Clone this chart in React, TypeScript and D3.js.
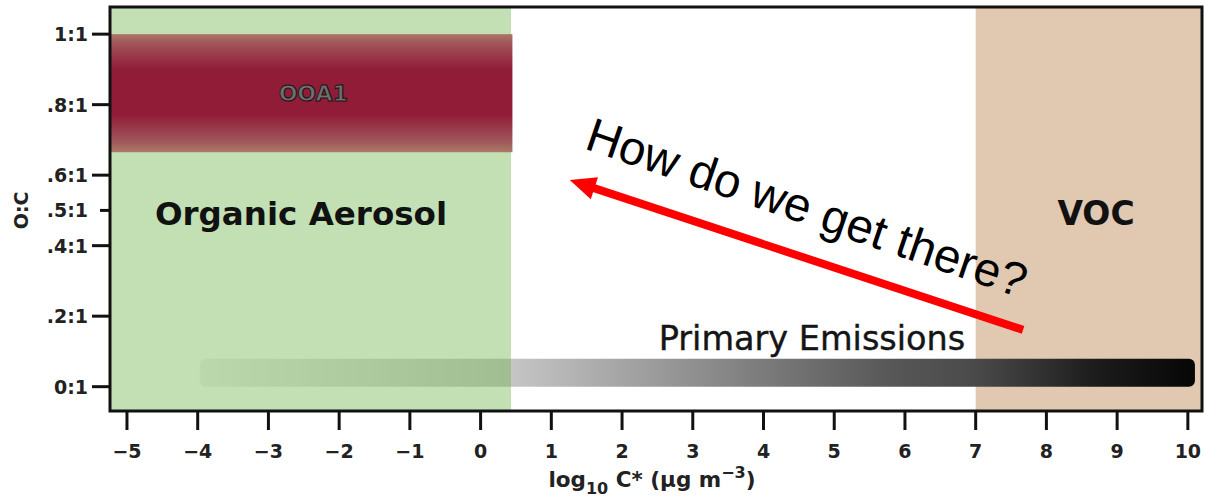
import React from 'react';
import * as d3 from 'd3';

// Axis extents (log10 C* and O:C)
const xDomain: [number, number] = [-5.24, 10.2];
const yDomain: [number, number] = [-0.069, 1.077];

// Tick values and labels
const xTickValues = [-5, -4, -3, -2, -1, 0, 1, 2, 3, 4, 5, 6, 7, 8, 9, 10];
const yTickValues = [0, 0.2, 0.4, 0.5, 0.6, 0.8, 1.0];
const yTickLabels = ['0:1', '.2:1', '.4:1', '.5:1', '.6:1', '.8:1', '1:1'];

// Volatility regimes (log10 C* ranges)
const organicAerosolRange = [-5.24, 0.43];
const vocRange = [7, 10.2];

// OOA1 factor: volatility range and O:C range
const ooa1LogC = [-5.24, 0.45];
const ooa1OC = [0.665, 1.0];

// Primary emissions bar: volatility range and O:C extent
const primaryLogC = [-3.97, 10.1];
const primaryOC = [0.0, 0.079];

// Aging arrow: from (log C*, O:C) to (log C*, O:C)
const arrowFrom = [7.67, 0.161];
const arrowTo = [1.26, 0.586];

const W = 1206;
const H = 497;
const margin = { left: 110, right: 4, top: 7, bottom: 86 };

const boldFont = '"DejaVu Sans", Verdana, sans-serif';

export default function App() {
  const x = d3.scaleLinear().domain(xDomain).range([margin.left, W - margin.right]);
  const y = d3.scaleLinear().domain(yDomain).range([H - margin.bottom, margin.top]);

  const [x0, x1] = x.range();
  const [yb, yt] = y.range();

  // Arrow geometry in screen space
  const ax0 = x(arrowFrom[0]);
  const ay0 = y(arrowFrom[1]);
  const ax1 = x(arrowTo[0]);
  const ay1 = y(arrowTo[1]);
  const len = Math.hypot(ax1 - ax0, ay1 - ay0);
  const ux = (ax1 - ax0) / len;
  const uy = (ay1 - ay0) / len;
  const headLen = 26;
  const headHalf = 11.5;
  const bx = ax1 - ux * headLen;
  const by = ay1 - uy * headLen;
  const head = [
    [ax1, ay1],
    [bx - uy * headHalf, by + ux * headHalf],
    [bx + uy * headHalf, by - ux * headHalf],
  ];
  const angle = (Math.atan2(ay0 - ay1, ax0 - ax1) * 180) / Math.PI + 0.6;

  // Question text anchored a little above the arrow, parallel to it
  const qx = x(1.45);
  const qy = y(0.676);

  return (
    <svg
      width={W}
      height={H}
      style={{ position: 'absolute', left: 0, top: 0, background: '#fff' }}
    >
      <defs>
        <linearGradient id="ooaGrad" x1="0" y1="0" x2="0" y2="1">
          <stop offset="0" stopColor="#aa7866" />
          <stop offset="0.08" stopColor="#a2555a" />
          <stop offset="0.3" stopColor="#901c38" />
          <stop offset="0.68" stopColor="#901c38" />
          <stop offset="0.9" stopColor="#a0545a" />
          <stop offset="1" stopColor="#aa7a66" />
        </linearGradient>
        <linearGradient id="primGrad" x1="0" y1="0" x2="1" y2="0">
          <stop offset="0" stopColor="#f2f2f2" />
          <stop offset="0.31" stopColor="#c6c6c6" />
          <stop offset="0.55" stopColor="#808080" />
          <stop offset="0.7" stopColor="#565656" />
          <stop offset="0.78" stopColor="#4a4a4a" />
          <stop offset="0.9" stopColor="#1c1c1c" />
          <stop offset="1" stopColor="#060606" />
        </linearGradient>
      </defs>

      {/* VOC regime */}
      <rect
        x={x(vocRange[0])}
        y={yt}
        width={x(vocRange[1]) - x(vocRange[0])}
        height={yb - yt}
        fill="#e0c8b1"
      />

      {/* Primary emissions volatility bar */}
      <rect
        x={x(primaryLogC[0])}
        y={y(primaryOC[1])}
        width={x(primaryLogC[1]) - x(primaryLogC[0])}
        height={y(primaryOC[0]) - y(primaryOC[1])}
        rx={6}
        fill="url(#primGrad)"
      />

      {/* Organic aerosol regime, translucent over the bar */}
      <rect
        x={x(organicAerosolRange[0])}
        y={yt}
        width={x(organicAerosolRange[1]) - x(organicAerosolRange[0])}
        height={yb - yt}
        fill="#66b143"
        fillOpacity={0.4}
      />

      {/* OOA1 band */}
      <rect
        x={x(ooa1LogC[0])}
        y={y(ooa1OC[1])}
        width={x(ooa1LogC[1]) - x(ooa1LogC[0])}
        height={y(ooa1OC[0]) - y(ooa1OC[1])}
        fill="url(#ooaGrad)"
      />
      <text
        x={(x(ooa1LogC[0]) + x(ooa1LogC[1])) / 2 + 2}
        y={y((ooa1OC[0] + ooa1OC[1]) / 2) + 8}
        textAnchor="middle"
        fontFamily={boldFont}
        fontWeight="bold"
        fontSize={22}
        fill="#6e6e6e"
        stroke="#151515"
        strokeWidth={1}
      >
        OOA1
      </text>

      <text
        x={812}
        y={350}
        textAnchor="middle"
        fontFamily='"DejaVu Sans", sans-serif'
        fontSize={33.5}
        fill="#151515"
        stroke="#151515"
        strokeWidth={0.4}
      >
        Primary Emissions
      </text>

      {/* Regime labels */}
      <text x={301} y={225} textAnchor="middle" fontFamily={boldFont} fontWeight="bold" fontSize={32.5} fill="#111">
        Organic Aerosol
      </text>
      <text x={1096} y={225} textAnchor="middle" fontFamily={boldFont} fontWeight="bold" fontSize={33} fill="#111">
        VOC
      </text>

      {/* Aging arrow */}
      <line
        x1={ax0}
        y1={ay0}
        x2={bx + ux * 2}
        y2={by + uy * 2}
        stroke="#ff0000"
        strokeWidth={8}
      />
      <polygon points={head.map((p) => p.join(',')).join(' ')} fill="#ff0000" />
      <text
        x={qx}
        y={qy}
        transform={`rotate(${angle}, ${qx}, ${qy})`}
        fontFamily='"Liberation Sans", Arial, sans-serif'
        fontSize={47.5}
        fill="#000"
      >
        How do we get there?
      </text>

      {/* Frame */}
      <rect x={x0} y={yt} width={x1 - x0} height={yb - yt} fill="none" stroke="#111" strokeWidth={3} />

      {/* Y axis */}
      {yTickValues.map((v, i) => (
        <g key={`y${i}`}>
          <line
            x1={x0 - (yTickLabels[i] === '.5:1' ? 10 : 18)}
            x2={x0}
            y1={y(v)}
            y2={y(v)}
            stroke="#111"
            strokeWidth={3}
          />
          <text
            x={x0 - 22}
            y={y(v) + 7}
            textAnchor="end"
            fontFamily={boldFont}
            fontWeight="bold"
            fontSize={19}
            fill="#222"
          >
            {yTickLabels[i]}
          </text>
        </g>
      ))}
      <text
        transform={`translate(28, ${y(0.5)}) rotate(-90)`}
        textAnchor="middle"
        fontFamily={boldFont}
        fontWeight="bold"
        fontSize={19}
        fill="#222"
      >
        O:C
      </text>

      {/* X axis */}
      {xTickValues.map((v) => (
        <g key={`x${v}`}>
          <line x1={x(v)} x2={x(v)} y1={yb} y2={yb + 19} stroke="#111" strokeWidth={3} />
          <text
            x={x(v)}
            y={yb + 47}
            textAnchor="middle"
            fontFamily={boldFont}
            fontWeight="bold"
            fontSize={19}
            fill="#222"
          >
            {d3.format('')(v)}
          </text>
        </g>
      ))}
      <text
        x={652}
        y={487}
        textAnchor="middle"
        fontFamily={boldFont}
        fontWeight="bold"
        fontSize={21.5}
        fill="#222"
      >
        log
        <tspan fontSize={16} dy={7}>10</tspan>
        <tspan dy={-7}> C* (µg m</tspan>
        <tspan fontSize={16} dy={-9}>−3</tspan>
        <tspan dy={9}>)</tspan>
      </text>
    </svg>
  );
}
